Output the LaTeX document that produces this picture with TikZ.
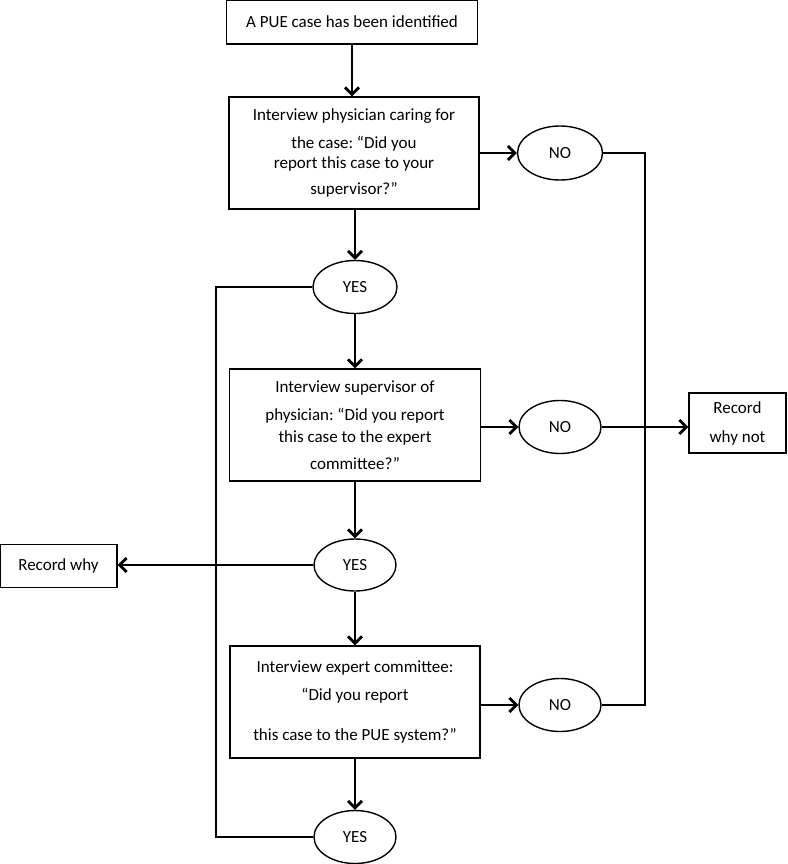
\documentclass[tikz,border=0pt]{standalone}
\usepackage{fontspec}
\setmainfont{Carlito}
\usetikzlibrary{arrows.meta,shapes.geometric}
\frenchspacing
\begin{document}
\begin{tikzpicture}[x=1pt,y=-1pt,
  every node/.style={font=\fontsize{17}{20}\selectfont},
  boxnode/.style={draw,line width=1.4pt,rectangle,align=center,inner sep=0pt},
  ovalnode/.style={draw,line width=1.4pt,ellipse,inner sep=0pt},
  link/.style={line width=2.8pt},
  arr/.style={line width=2.8pt,-{Straight Barb[length=7pt,width=14pt]}}]
\useasboundingbox (0,0) rectangle (787,864);
\node[boxnode,minimum width=251pt,minimum height=44pt] (b1) at (352,22) {A PUE case has been identified};
\node[boxnode,minimum width=250pt,minimum height=112pt] (b2) at (354,153)
  {Interview physician caring for\\[8pt] the case: “Did you\\ report this case to your\\[6pt] supervisor?”};
\node[ovalnode,minimum width=85pt,minimum height=54pt] (no1) at (560,153) {NO};
\node[ovalnode,minimum width=84pt,minimum height=53pt] (yes1) at (355,287) {YES};
\node[boxnode,minimum width=251pt,minimum height=112pt] (b3) at (355,425)
  {Interview supervisor of\\[8pt] physician: “Did you report\\[2pt] this case to the expert\\[7pt] committee?”};
\node[ovalnode,minimum width=82pt,minimum height=53pt] (no2) at (560,427) {NO};
\node[boxnode,minimum width=97pt,minimum height=60pt] (rwn) at (737.5,423) {Record\\[9pt] why not};
\node[ovalnode,minimum width=82pt,minimum height=52pt] (yes2) at (355,565) {YES};
\node[boxnode,minimum width=117pt,minimum height=43pt] (rw) at (58.5,566) {Record why};
\node[boxnode,minimum width=250pt,minimum height=112pt] (b4) at (355,702)
  {Interview expert committee:\\[8pt] “Did you report\\[20pt] this case to the PUE system?”};
\node[ovalnode,minimum width=82pt,minimum height=53pt] (no3) at (560,705) {NO};
\node[ovalnode,minimum width=82pt,minimum height=53pt] (yes3) at (355,837) {YES};
\coordinate (rx) at (645,0);
\coordinate (lx) at (216,0);
\draw[arr] (b1.south) -- (b1.south|-b2.north);
\draw[arr] (b2.east) -- (no1.west);
\draw[arr] (yes1.north|-b2.south) -- (yes1.north);
\draw[arr] (yes1.south) -- (b3.north);
\draw[arr] (b3.east|-no2.west) -- (no2.west);
\draw[arr] (no2.east) -- (no2.east-|rwn.west);
\draw[arr] (b3.south) -- (yes2.north);
\draw[arr] (yes2.west) -- (yes2.west-|rw.east);
\draw[arr] (yes2.south) -- (b4.north);
\draw[arr] (b4.east|-no3.west) -- (no3.west);
\draw[arr] (b4.south) -- (yes3.north);
\draw[link] (no1.east) -- (no1.east-|rx) |- (no3.east);
\draw[link] (yes1.west) -- (yes1.west-|lx) |- (yes3.west);
\end{tikzpicture}
\end{document}
